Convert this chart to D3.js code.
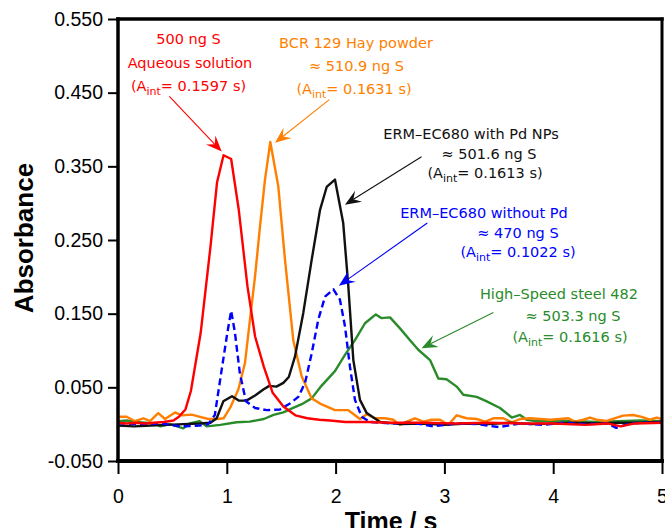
<!DOCTYPE html>
<html>
<head>
<meta charset="utf-8">
<script src="https://cdn.jsdelivr.net/npm/d3@7"></script>
<style>
  html, body { margin: 0; padding: 0; background: #fff; }
  svg { display: block; }
</style>
</head>
<body>
<svg id="chart" width="665" height="528"></svg>
<script>
// Time / s, absorbance pairs for each transient signal
const aqueous = [
  [0,0.002],[0.08,0.001],[0.16,0.002],[0.25,0.001],[0.33,0.002],[0.42,0.003],[0.51,0.005],
  [0.56,0.010],[0.62,0.020],[0.67,0.045],[0.76,0.124],[0.85,0.241],[0.91,0.328],[0.97,0.365],
  [1.04,0.360],[1.11,0.291],[1.19,0.187],[1.26,0.119],[1.34,0.078],[1.42,0.043],[1.52,0.024],
  [1.63,0.012],[1.74,0.008],[1.85,0.006],[1.95,0.005],[2.09,0.003],[2.3,0.003],[2.5,0.002],
  [2.8,0.002],[3.1,0.001],[3.4,0.002],[3.7,0.001],[4.0,0.001],[4.3,-0.001],[4.5,0.001],
  [4.62,-0.003],[4.75,0.001],[5.0,0.002]
];
const hayPowder = [
  [0,0.010],[0.08,0.010],[0.156,0.004],[0.233,0.008],[0.294,0.004],[0.37,0.015],[0.432,0.007],
  [0.524,0.016],[0.585,0.012],[0.677,0.013],[0.754,0.010],[0.83,0.007],[0.91,0.007],[0.97,0.008],
  [1.03,0.022],[1.106,0.047],[1.167,0.083],[1.213,0.142],[1.259,0.200],[1.305,0.268],[1.351,0.332],
  [1.40,0.383],[1.473,0.323],[1.535,0.223],[1.611,0.114],[1.688,0.065],[1.78,0.035],[1.857,0.028],
  [1.994,0.019],[2.117,0.019],[2.224,0.007],[2.286,0.0135],[2.36,0.008],[2.454,0.008],[2.53,0.006],
  [2.59,-0.001],[2.654,0.0034],[2.73,0.008],[2.806,0.0034],[2.883,0.006],[2.96,0.006],[3.036,-0.001],
  [3.113,0.012],[3.204,0.008],[3.297,0.007],[3.373,0.0034],[3.45,0.008],[3.54,0.008],[3.62,0.0026],
  [3.695,0.007],[3.787,0.008],[3.88,0.007],[3.97,0.006],[4.06,0.007],[4.14,0.008],[4.2,0.0034],
  [4.277,0.006],[4.338,0.009],[4.4,0.006],[4.49,0.0043],[4.584,0.009],[4.644,0.0116],[4.736,0.0125],
  [4.813,0.010],[4.89,0.006],[4.95,0.009],[5.0,0.007]
];
const withPd = [
  [0,-0.002],[0.15,-0.003],[0.3,-0.002],[0.45,-0.001],[0.6,0.0],[0.75,0.001],[0.85,0.002],
  [0.907,0.008],[0.968,0.031],[1.048,0.038],[1.11,0.032],[1.18,0.032],[1.26,0.039],[1.336,0.047],
  [1.39,0.052],[1.456,0.051],[1.52,0.056],[1.57,0.064],[1.627,0.092],[1.703,0.151],[1.78,0.223],
  [1.857,0.291],[1.918,0.322],[1.994,0.332],[2.07,0.273],[2.117,0.187],[2.163,0.087],[2.224,0.033],
  [2.286,0.015],[2.41,0.003],[2.6,0.0],[2.8,0.001],[3.0,-0.001],[3.2,0.001],[3.4,0.0],[3.6,0.002],
  [3.8,0.0],[4.0,0.001],[4.2,0.002],[4.4,0.001],[4.6,0.002],[4.8,0.002],[5.0,0.003]
];
const withoutPd = [
  [0,0.001],[0.2,0.0],[0.4,0.001],[0.57,-0.003],[0.75,-0.002],[0.83,0.0],[0.89,0.0125],[0.953,0.074],
  [1.005,0.124],[1.04,0.154],[1.075,0.124],[1.12,0.069],[1.176,0.031],[1.26,0.022],[1.367,0.019],
  [1.489,0.020],[1.58,0.028],[1.657,0.037],[1.719,0.056],[1.78,0.096],[1.841,0.142],[1.903,0.173],
  [1.98,0.183],[2.04,0.169],[2.086,0.133],[2.132,0.078],[2.178,0.033],[2.24,0.010],[2.316,0.003],
  [2.5,0.001],[2.7,0.002],[2.9,-0.003],[3.1,0.001],[3.3,0.0],[3.5,-0.004],[3.7,0.001],[3.9,-0.001],
  [4.1,0.002],[4.3,0.0],[4.5,0.001],[4.58,-0.005],[4.7,0.001],[4.85,0.002],[5.0,0.002]
];
const steel = [
  [0,0.004],[0.08,0.005],[0.16,0.003],[0.25,0.002],[0.33,0.001],[0.39,-0.003],[0.48,0.0],
  [0.6,-0.0056],[0.66,0.001],[0.75,0.004],[0.815,-0.003],[0.94,-0.001],[1.09,0.0026],[1.21,0.0034],
  [1.34,0.007],[1.43,0.0125],[1.52,0.016],[1.61,0.022],[1.70,0.028],[1.78,0.035],[1.87,0.052],
  [1.994,0.072],[2.086,0.094],[2.178,0.114],[2.27,0.137],[2.37,0.149],[2.42,0.144],[2.5,0.145],
  [2.592,0.130],[2.684,0.114],[2.76,0.101],[2.868,0.087],[2.944,0.062],[3.02,0.061],[3.113,0.051],
  [3.174,0.040],[3.297,0.037],[3.389,0.031],[3.511,0.022],[3.62,0.009],[3.695,0.0125],[3.756,0.006],
  [3.85,0.004],[4.0,0.005],[4.2,0.004],[4.4,0.003],[4.6,0.004],[4.8,0.005],[5.0,0.004]
];

const xTicks = [0, 1, 2, 3, 4, 5];
const yTicks = [-0.05, 0.05, 0.15, 0.25, 0.35, 0.45, 0.55];

// Series drawing order and styles
const series = [
  { data: steel,     color: "#2a8b2a", dash: null },
  { data: hayPowder, color: "#ff7f00", dash: null },
  { data: withPd,    color: "#111111", dash: null },
  { data: withoutPd, color: "#0000ff", dash: "7,4" },
  { data: aqueous,   color: "#ff0000", dash: null }
];

// Annotation blocks: lines of text (with optional A_int subscript) and an arrow
const notes = [
  { color: "#ff0000",
    lines: [ {x: 188.5, y: 44, t: "500 ng S"},
             {x: 190,   y: 68, t: "Aqueous solution"},
             {x: 188.5, y: 91, a: "0.1597"} ],
    from: [0.472, 0.445], to: [0.953, 0.370] },
  { color: "#ff7f00",
    lines: [ {x: 356,   y: 48, t: "BCR 129 Hay powder"},
             {x: 356.5, y: 71, t: "≈ 510.9 ng S"},
             {x: 354,   y: 94, a: "0.1631"} ],
    from: [1.942, 0.4405], to: [1.443, 0.382] },
  { color: "#111111",
    lines: [ {x: 471, y: 139, t: "ERM–EC680 with Pd NPs"},
             {x: 489, y: 159, t: "≈ 501.6 ng S"},
             {x: 485, y: 178, a: "0.1613"} ],
    from: [2.79, 0.363], to: [2.086, 0.298] },
  { color: "#0000ff",
    lines: [ {x: 484, y: 218, t: "ERM–EC680 without Pd"},
             {x: 518, y: 238, t: "≈ 470 ng S"},
             {x: 518, y: 257, a: "0.1022"} ],
    from: [2.843, 0.273], to: [2.03, 0.188] },
  { color: "#2a8b2a",
    lines: [ {x: 559, y: 299, t: "High–Speed steel 482"},
             {x: 573, y: 321, t: "≈ 503.3 ng S"},
             {x: 570, y: 342, a: "0.1616"} ],
    from: [3.45, 0.1515], to: [2.79, 0.103] }
];

const svg = d3.select("#chart");
const mLeft = 118, mRight = 662, mTop = 19, mBottom = 461;

const x = d3.scaleLinear().domain([0, 5]).range([mLeft, mRight]);
const y = d3.scaleLinear().domain([-0.05, 0.55]).range([mBottom, mTop]);

const axisFont = "'Liberation Sans', Arial, Helvetica, sans-serif";
const noteFont = "'DejaVu Sans', 'Lucida Grande', sans-serif";

// Plot lines (clipped to plot area)
svg.append("clipPath").attr("id", "plotClip")
  .append("rect").attr("x", mLeft).attr("y", mTop)
  .attr("width", mRight - mLeft).attr("height", mBottom - mTop);

const line = d3.line().x(d => x(d[0])).y(d => y(d[1]));

const plot = svg.append("g").attr("clip-path", "url(#plotClip)");
series.forEach(s => {
  plot.append("path")
    .datum(s.data)
    .attr("d", line)
    .attr("fill", "none")
    .attr("stroke", s.color)
    .attr("stroke-width", 2.4)
    .attr("stroke-linejoin", "round")
    .attr("stroke-dasharray", s.dash);
});

// Axes
const yAxis = d3.axisLeft(y)
  .tickValues(yTicks)
  .tickFormat(d => d.toFixed(3))
  .tickSize(10).tickPadding(5);
const xAxis = d3.axisBottom(x)
  .tickValues(xTicks)
  .tickFormat(d3.format("d"))
  .tickSize(13).tickPadding(15);

const gy = svg.append("g").attr("transform", `translate(${mLeft},0)`).call(yAxis);
const gx = svg.append("g").attr("transform", `translate(0,${mBottom})`).call(xAxis);
[gx, gy].forEach(g => {
  g.select(".domain").remove();
  g.selectAll(".tick line").attr("stroke", "#000").attr("stroke-width", 2);
  g.selectAll(".tick text")
    .attr("fill", "#000")
    .style("font-family", axisFont)
    .style("font-size", "19.5px");
});

// Frame around the plot area
const frame = svg.append("g").attr("stroke", "#000").attr("stroke-linecap", "square");
frame.append("line").attr("x1", mLeft).attr("x2", mRight).attr("y1", mTop).attr("y2", mTop).attr("stroke-width", 3.5);
frame.append("line").attr("x1", mLeft).attr("x2", mRight).attr("y1", mBottom).attr("y2", mBottom).attr("stroke-width", 4);
frame.append("line").attr("x1", mLeft).attr("x2", mLeft).attr("y1", mTop).attr("y2", mBottom).attr("stroke-width", 3.5);
frame.append("line").attr("x1", mRight).attr("x2", mRight).attr("y1", mTop).attr("y2", mBottom).attr("stroke-width", 3);

// Axis titles
svg.append("text")
  .attr("x", 391).attr("y", 530)
  .attr("text-anchor", "middle")
  .style("font-family", axisFont).style("font-weight", "bold").style("font-size", "25px")
  .text("Time / s");
svg.append("text")
  .attr("transform", "translate(33,238) rotate(-90)")
  .attr("text-anchor", "middle")
  .style("font-family", axisFont).style("font-weight", "bold").style("font-size", "26px")
  .text("Absorbance");

// Annotations
const ann = svg.append("g");
notes.forEach(n => {
  n.lines.forEach(l => {
    const t = ann.append("text")
      .attr("x", l.x).attr("y", l.y)
      .attr("text-anchor", "middle")
      .attr("fill", n.color)
      .style("font-family", noteFont)
      .style("font-size", "14.5px");
    if (l.a) {
      t.append("tspan").text("(A");
      t.append("tspan").attr("dy", 4).style("font-size", "11px").text("int");
      t.append("tspan").attr("dy", -4).text(`= ${l.a} s)`);
    } else {
      t.text(l.t);
    }
  });

  // Arrow shaft and a notched arrow head at the tip
  const x0 = x(n.from[0]), y0 = y(n.from[1]);
  const x1 = x(n.to[0]), y1 = y(n.to[1]);
  const ang = Math.atan2(y1 - y0, x1 - x0);
  const len = 16, half = 6.5, notch = 10;
  const rot = (px, py) => [x1 + px * Math.cos(ang) - py * Math.sin(ang),
                           y1 + px * Math.sin(ang) + py * Math.cos(ang)];
  const nb = rot(-notch, 0);
  ann.append("line")
    .attr("x1", x0).attr("y1", y0).attr("x2", nb[0]).attr("y2", nb[1])
    .attr("stroke", n.color).attr("stroke-width", 1.1);
  const p1 = rot(-len, -half), p2 = rot(-len, half);
  ann.append("path")
    .attr("d", `M${x1},${y1}L${p1[0]},${p1[1]}L${nb[0]},${nb[1]}L${p2[0]},${p2[1]}Z`)
    .attr("fill", n.color);
});
</script>
</body>
</html>
